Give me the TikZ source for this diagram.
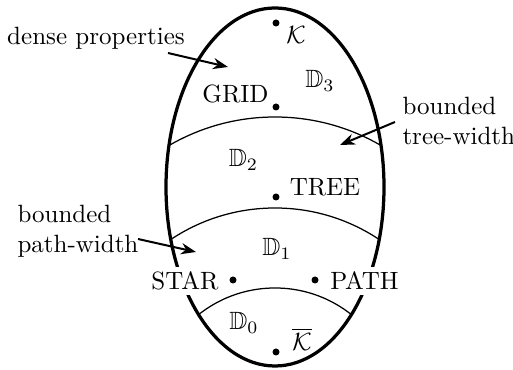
\documentclass[tikz,border=0pt]{standalone}
\usepackage{amssymb}
\usetikzlibrary{arrows.meta}
\begin{document}
\begin{tikzpicture}[x=0.4pt,y=-0.4pt,
  lbl/.style={inner sep=1pt},
  dotc/.style={circle,fill=black,inner sep=0pt,minimum size=2.8pt},
  sep/.style={line width=0.5pt},
  pointer/.style={line width=0.8pt,-{Stealth[length=6pt,width=4.5pt]}},
  side/.style={align=left,inner sep=0pt}]
\useasboundingbox (0,0) rectangle (513,370);
% ellipse
\draw[line width=1.3pt] (275,187) ellipse [x radius=109, y radius=179];
\begin{scope}
  \clip (275,187) ellipse [x radius=109, y radius=179];
  \draw[sep] (275,328) circle [radius=211];
  \draw[sep] (275,396) circle [radius=188];
  \draw[sep] (275,411) circle [radius=123];
\end{scope}
% points
\node[dotc] (k) at (276,23) {};
\node[lbl] (kl) at (296,35) {$\mathcal{K}$};
\node[dotc] (grid) at (276,107) {};
\node[lbl] (gridl) at (235.5,94) {GRID};
\node[lbl] (d3) at (320,81) {$\mathbb{D}_3$};
\node[lbl] (d2) at (243.5,160) {$\mathbb{D}_2$};
\node[dotc] (tree) at (276,197) {};
\node[lbl] (treel) at (325,187) {TREE};
\node[lbl] (d1) at (277,249) {$\mathbb{D}_1$};
\node[dotc] (star) at (233,280) {};
\node[lbl,fill=white,inner sep=2pt] (starl) at (185,281) {STAR};
\node[dotc] (path) at (315,280) {};
\node[lbl,fill=white,inner sep=2pt] (pathl) at (364.5,281) {PATH};
\node[lbl] (d0) at (244,323) {$\mathbb{D}_0$};
\node[dotc] (kb) at (276,352) {};
\node[lbl] (kbl) at (302,339) {$\overline{\mathcal{K}}$};
% side labels
\node[lbl] (dense) at (96,38) {dense properties};
\node[side,anchor=west] (btw) at (402,121) {bounded\\tree-width};
\node[side,anchor=west] (bpw) at (17,231) {bounded\\path-width};
\coordinate (a1s) at (168,53);
\coordinate (a1e) at (228,67);
\coordinate (a2s) at (395,122);
\coordinate (a2e) at (340,145);
\coordinate (a3s) at (138,239);
\coordinate (a3e) at (196,252);
\draw[pointer] (a1s) -- (a1e);
\draw[pointer] (a2s) -- (a2e);
\draw[pointer] (a3s) -- (a3e);
\end{tikzpicture}
\end{document}
